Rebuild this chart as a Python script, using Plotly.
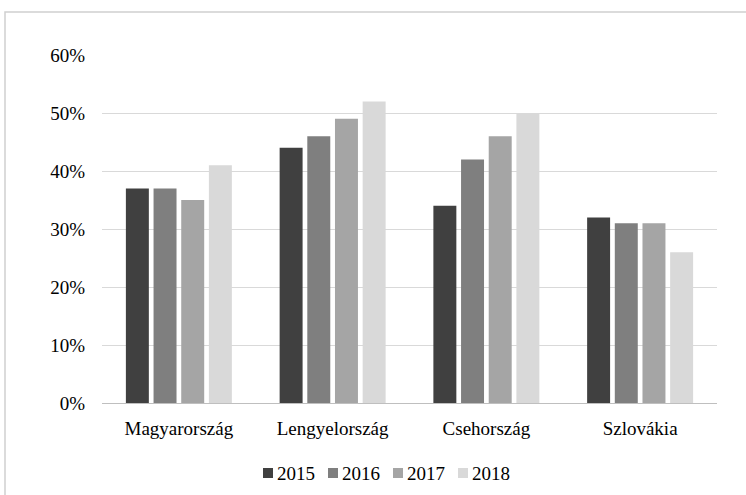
import plotly.graph_objects as go

categories = ["Magyarország", "Lengyelország", "Csehország", "Szlovákia"]
years = ["2015", "2016", "2017", "2018"]
values_2015 = [0.37, 0.44, 0.34, 0.32]
values_2016 = [0.37, 0.46, 0.42, 0.31]
values_2017 = [0.35, 0.49, 0.46, 0.31]
values_2018 = [0.41, 0.52, 0.50, 0.26]
colors = ["#404040", "#7f7f7f", "#a5a5a5", "#d9d9d9"]
y_ticks = [0, 0.1, 0.2, 0.3, 0.4, 0.5, 0.6]

series = [values_2015, values_2016, values_2017, values_2018]

fig = go.Figure()
for name, vals, col in zip(years, series, colors):
    fig.add_trace(go.Bar(x=categories, y=vals, name=name, marker_color=col,
                         marker_line_width=0, showlegend=False))

L, R, T, B = 102, 29, 55, 92
W, H = 746, 495
pw, ph = W - L - R, H - T - B


def px_x(p):
    return (p - L) / pw


def px_y(p):
    return (T + ph - p) / ph


shapes = [dict(type="rect", xref="paper", yref="paper",
               x0=px_x(5), x1=px_x(W + 20), y0=px_y(H + 20), y1=px_y(12),
               line=dict(color="#d0d0d0", width=1.5), fillcolor="rgba(0,0,0,0)",
               layer="below")]
annotations = []
# custom legend: square + label for each year
leg_x0, leg_pitch, leg_y = 263, 65, 473
for i, (name, col) in enumerate(zip(years, colors)):
    sx = leg_x0 + leg_pitch * i
    shapes.append(dict(type="rect", xref="paper", yref="paper",
                       x0=px_x(sx), x1=px_x(sx + 10),
                       y0=px_y(leg_y + 5), y1=px_y(leg_y - 5),
                       line=dict(width=0), fillcolor=col))
    annotations.append(dict(xref="paper", yref="paper", x=px_x(sx + 12),
                            y=px_y(leg_y), xanchor="left", yanchor="middle",
                            text=name, showarrow=False,
                            font=dict(size=19, color="#000000")))

fig.update_layout(
    width=W, height=H,
    margin=dict(l=L, r=R, t=T, b=B, pad=0),
    paper_bgcolor="white", plot_bgcolor="white",
    font=dict(family="Liberation Serif", size=19, color="#000000"),
    barmode="group", bargap=0.28, bargroupgap=0.17,
    showlegend=False,
    xaxis=dict(showgrid=False, showline=True, linecolor="#bfbfbf", linewidth=1,
               ticks="", ticklabelstandoff=8, tickfont=dict(size=19)),
    yaxis=dict(range=[0, 0.6], tickvals=y_ticks, tickformat=".0%",
               showgrid=True, gridcolor="#d9d9d9", gridwidth=1,
               zeroline=False, showline=False, ticks="",
               ticklabelstandoff=16, tickfont=dict(size=19)),
    shapes=shapes,
    annotations=annotations,
)

fig.write_html("out.html", config={"displayModeBar": False},
               post_script="document.body.style.margin='0';")
